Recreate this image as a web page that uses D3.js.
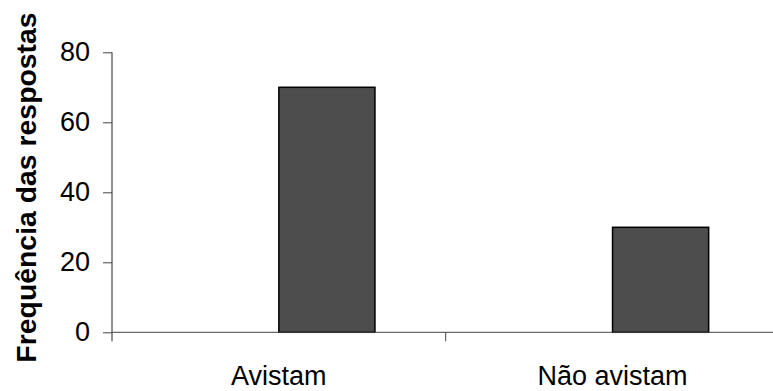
<!DOCTYPE html>
<html><head><meta charset="utf-8">
<script src="https://cdn.jsdelivr.net/npm/d3@7/dist/d3.min.js"></script>
<style>body{margin:0;background:#fff}svg{display:block}</style>
</head><body>
<svg id="c" width="773" height="391"></svg>
<script>
const categories = ["Avistam", "Não avistam"];
const values = [70, 30];
const yTicks = [0, 20, 40, 60, 80];
const yTitle = "Frequência das respostas";

const svg = d3.select("#c");
const font = "'Liberation Sans', Arial, sans-serif";
const y = d3.scaleLinear().domain([0, 80]).range([332.3, 52.3]);
const x = d3.scaleBand().domain(categories).range([112, 779.4]).padding(0);
const bw = x.bandwidth();

// bars
svg.selectAll("rect.bar").data(categories).enter().append("rect")
  .attr("x", c => x(c) + bw * 0.5)
  .attr("width", bw * 0.288)
  .attr("y", (c, i) => y(values[i]))
  .attr("height", (c, i) => y(0) - y(values[i]))
  .attr("fill", "#4d4d4d").attr("stroke", "#000").attr("stroke-width", 1.5);

// y axis
const ya = svg.append("g").attr("transform", "translate(112,0)")
  .call(d3.axisLeft(y).tickValues(yTicks).tickSize(9).tickSizeOuter(0).tickPadding(13));
ya.select(".domain").attr("stroke", "#222").attr("d", `M0,${y(80)}V${y(0) + 9}`);
ya.selectAll(".tick line").attr("stroke", "#444");
ya.selectAll("text").attr("font-family", font).attr("font-size", 27).attr("fill", "#000");

// x axis
const xa = svg.append("g").attr("transform", `translate(0,${y(0)})`);
xa.append("line").attr("x1", 112).attr("x2", 773).attr("stroke", "#444").attr("stroke-width", 1);
xa.selectAll("line.t").data(categories.slice(1)).enter().append("line")
  .attr("x1", c => x(c)).attr("x2", c => x(c)).attr("y1", 0).attr("y2", 9)
  .attr("stroke", "#444");
xa.selectAll("text").data(categories).enter().append("text")
  .attr("x", c => x(c) + bw / 2).attr("y", 52.5)
  .attr("text-anchor", "middle").attr("font-family", font).attr("font-size", 27)
  .text(c => c);

// y title
svg.append("text")
  .attr("transform", `translate(36,187.5) rotate(-90)`)
  .attr("text-anchor", "middle").attr("font-family", font)
  .attr("font-weight", "bold").attr("font-size", 28.4)
  .text(yTitle);
</script>
</body></html>
